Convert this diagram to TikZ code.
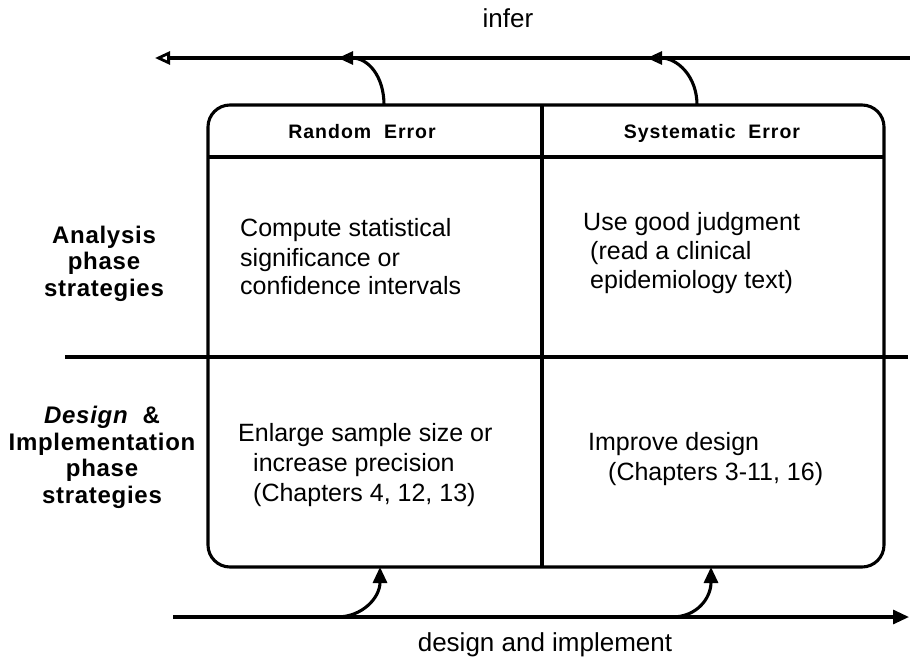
\documentclass[tikz,border=0pt]{standalone}
\usepackage{fontspec}
\setmainfont{Liberation Sans}
\usetikzlibrary{arrows.meta}
\begin{document}
\begin{tikzpicture}[x=1pt,y=-1pt,
  frame/.style={draw, line width=3.1pt},
  flow/.style={draw, line width=3.1pt},
  openhead/.style={-{Triangle[open,length=15pt,width=13pt,line width=2.8pt]}},
  solidhead/.style={-{Triangle[length=16pt,width=14pt]}},
  body/.style={font=\fontsize{25}{30}\selectfont, inner sep=0pt, anchor=base west},
  head/.style={font=\fontsize{19.5}{22}\selectfont\bfseries\addfontfeatures{LetterSpace=5}, inner sep=0pt, anchor=base},
  side/.style={font=\fontsize{24}{26.5}\selectfont\bfseries\addfontfeatures{LetterSpace=3}, align=center, inner sep=0pt, anchor=base},
  caption/.style={font=\fontsize{26}{30}\selectfont, inner sep=0pt, anchor=base}
]
\useasboundingbox (0,0) rectangle (910,656);

% main frame
\draw[frame, rounded corners=22pt] (208,105) rectangle (884,567);
\coordinate (divtop) at (542,105);
\coordinate (divbot) at (542,567);
\draw[frame] (divtop) -- (divbot);
\coordinate (hl) at (208,157);
\coordinate (hr) at (884,157);
\draw[frame] (hl) -- (hr);
\coordinate (ml) at (65,357);
\coordinate (mr) at (908,357);
\draw[frame] (ml) -- (mr);

% top "infer" arrow
\coordinate (inR) at (910,58);
\coordinate (inL) at (155,58);
\coordinate (rtop) at (384,105);
\coordinate (stop) at (697,105);
\coordinate (rin) at (338,58);
\coordinate (sin) at (647,58);
\draw[flow, openhead] (inR) -- (inL);
\draw[flow, openhead] (rtop) .. controls (384,76) and (368,58) .. (rin);
\draw[flow, openhead] (stop) .. controls (697,76) and (677,58) .. (sin);

% bottom "design and implement" arrow
\coordinate (dL) at (173,617);
\coordinate (dR) at (909,617);
\coordinate (rbot) at (380,567);
\coordinate (sbot) at (711,567);
\coordinate (rout) at (337,617);
\coordinate (sout) at (672,617);
\draw[flow, solidhead] (dL) -- (dR);
\draw[flow, solidhead] (rout) .. controls (362,617) and (380,598) .. (rbot);
\draw[flow, solidhead] (sout) .. controls (697,617) and (711,598) .. (sbot);

% labels
\node[caption] (infer) at (508,27) {infer};
\node[caption] (design) at (545,651) {design and implement};

\node[head] (rand) at (362,138) {Random\ \ Error};
\node[head] (syst) at (712,138) {Systematic\ \ Error};

\node[side] (analysis) at (104,296) {Analysis\\phase\\strategies};
\node[side] (desimp) at (102,503) {{\itshape Design}\ \ \&\\Implementation\\phase\\strategies};

% upper cells
\node[body] (c1) at (240,236) {Compute statistical};
\node[body] (c2) at (240,266) {significance or};
\node[body] (c3) at (240,294) {confidence intervals};
\node[body] (u1) at (583,230) {Use good judgment};
\node[body] (u2) at (590,259) {(read a clinical};
\node[body] (u3) at (590,288) {epidemiology text)};

% lower cells
\node[body] (e1) at (238,441) {Enlarge sample size or};
\node[body] (e2) at (253,471) {increase precision};
\node[body] (e3) at (253,501) {(Chapters 4, 12, 13)};
\node[body] (i1) at (588,450) {Improve design};
\node[body] (i2) at (608,480) {(Chapters 3-11, 16)};
\end{tikzpicture}
\end{document}
